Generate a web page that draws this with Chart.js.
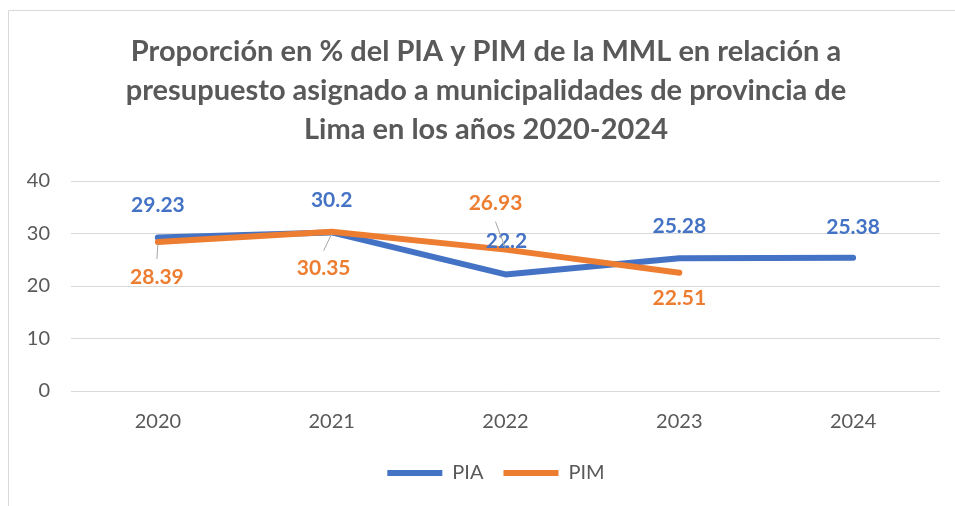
<!DOCTYPE html>
<html>
<head>
<meta charset="utf-8">
<script src="https://cdn.jsdelivr.net/npm/chart.js@4/dist/chart.umd.min.js"></script>
<style>
  html, body { margin: 0; padding: 0; background: #fff; }
  #wrap { position: relative; width: 955px; height: 506px; }
</style>
</head>
<body>
<div id="wrap"><canvas id="c" width="955" height="506"></canvas></div>
<script>
// ---- data ----
const years = ['2020', '2021', '2022', '2023', '2024'];
const piaValues = [29.23, 30.2, 22.2, 25.28, 25.38];
const pimValues = [28.39, 30.35, 26.93, 22.51, null];
const piaLabels = ['29.23', '30.2', '22.2', '25.28', '25.38'];
const pimLabels = ['28.39', '30.35', '26.93', '22.51', ''];
const titleLines = [
  'Proporción en % del PIA y PIM de la MML en relación a',
  'presupuesto asignado a municipalidades de provincia de',
  'Lima en los años 2020-2024'
];

// ---- styling / label placement (not data) ----
const BLUE = '#4472C4', ORANGE = '#ED7D31', GREY = '#595959';
// label offsets relative to point: [dx, dy, leader]
const labelPlacement = [
  [[0, -32, false], [0, -32, false], [1, -33, false], [0, -32, false], [0, -31, false]],
  [[-1, 35, true], [-8, 37, true], [-10, -46, true], [0, 25, false], [0, 0, false]]
];
const labelTexts = [piaLabels, pimLabels];
const labelColors = [BLUE, ORANGE];

const frame = {
  id: 'frame',
  beforeDraw(chart) {
    const ctx = chart.ctx;
    ctx.save();
    ctx.fillStyle = '#fff';
    ctx.fillRect(0, 0, chart.width, chart.height);
    ctx.strokeStyle = '#d9d9d9';
    ctx.lineWidth = 1;
    ctx.beginPath();
    ctx.moveTo(8.5, chart.height + 5);
    ctx.lineTo(8.5, 10.5);
    ctx.lineTo(chart.width + 5, 10.5);
    ctx.stroke();
    ctx.restore();
  }
};

// shift title and legend horizontally to match the reference centring
const shiftBoxes = {
  id: 'shiftBoxes',
  afterLayout(chart) {
    if (chart.titleBlock) { chart.titleBlock.left += 12; chart.titleBlock.right += 12; }
    if (chart.legend) { chart.legend.left += 22; chart.legend.right += 22; }
  }
};

const dataLabels = {
  id: 'dataLabels',
  afterDatasetsDraw(chart) {
    const ctx = chart.ctx;
    ctx.save();
    ctx.font = 'bold 21px Lato';
    ctx.textAlign = 'center';
    ctx.textBaseline = 'middle';
    chart.data.datasets.forEach((ds, di) => {
      const meta = chart.getDatasetMeta(di);
      meta.data.forEach((pt, i) => {
        const txt = labelTexts[di][i];
        if (!txt || ds.data[i] == null) return;
        const [dx, dy, leader] = labelPlacement[di][i];
        const lx = pt.x + dx, ly = pt.y + dy;
        if (leader) {
          const dir = dy > 0 ? -1 : 1;
          ctx.strokeStyle = '#a6a6a6';
          ctx.lineWidth = 1;
          ctx.beginPath();
          ctx.moveTo(lx, ly + dir * 18);
          ctx.lineTo(pt.x, pt.y + (dy > 0 ? 2 : -1));
          ctx.stroke();
        }
        ctx.fillStyle = labelColors[di];
        ctx.fillText(txt, lx, ly);
      });
    });
    ctx.restore();
  }
};

new Chart(document.getElementById('c'), {
  type: 'line',
  data: {
    labels: years,
    datasets: [
      {
        label: 'PIA',
        data: piaValues,
        borderColor: BLUE,
        backgroundColor: BLUE,
        borderWidth: 6,
        pointRadius: 0,
        borderCapStyle: 'round',
        borderJoinStyle: 'round',
        tension: 0,
        order: 1
      },
      {
        label: 'PIM',
        data: pimValues,
        borderColor: ORANGE,
        backgroundColor: ORANGE,
        borderWidth: 6,
        pointRadius: 0,
        borderCapStyle: 'round',
        borderJoinStyle: 'round',
        tension: 0,
        order: 0
      }
    ]
  },
  options: {
    responsive: false,
    animation: false,
    devicePixelRatio: 1,
    layout: { padding: { left: 8, right: 15, top: 0, bottom: 13 } },
    plugins: {
      title: {
        display: true,
        text: titleLines,
        color: GREY,
        font: { family: 'Lato', size: 29, weight: 'bold', lineHeight: 39 / 29 },
        padding: { top: 32, bottom: 32 }
      },
      legend: {
        position: 'bottom',
        labels: {
          usePointStyle: true,
          pointStyle: 'line',
          pointStyleWidth: 55,
          boxHeight: 20,
          color: GREY,
          font: { family: 'Lato', size: 20 },
          padding: 20,
          sort: (a, b) => a.datasetIndex - b.datasetIndex
        }
      },
      tooltip: { enabled: false }
    },
    scales: {
      x: {
        offset: true,
        grid: { display: false, drawTicks: false },
        border: { display: false },
        ticks: { color: GREY, font: { family: 'Lato', size: 20 }, padding: 19 },
        afterFit(scale) { scale.height = 52; }
      },
      y: {
        min: 0,
        max: 40,
        ticks: { stepSize: 10, color: GREY, font: { family: 'Lato', size: 20 }, padding: 21 },
        grid: { color: '#d9d9d9', lineWidth: 1, drawTicks: false },
        border: { display: false },
        afterFit(scale) { scale.width = 63; }
      }
    }
  },
  plugins: [frame, shiftBoxes, dataLabels]
});
</script>
</body>
</html>
